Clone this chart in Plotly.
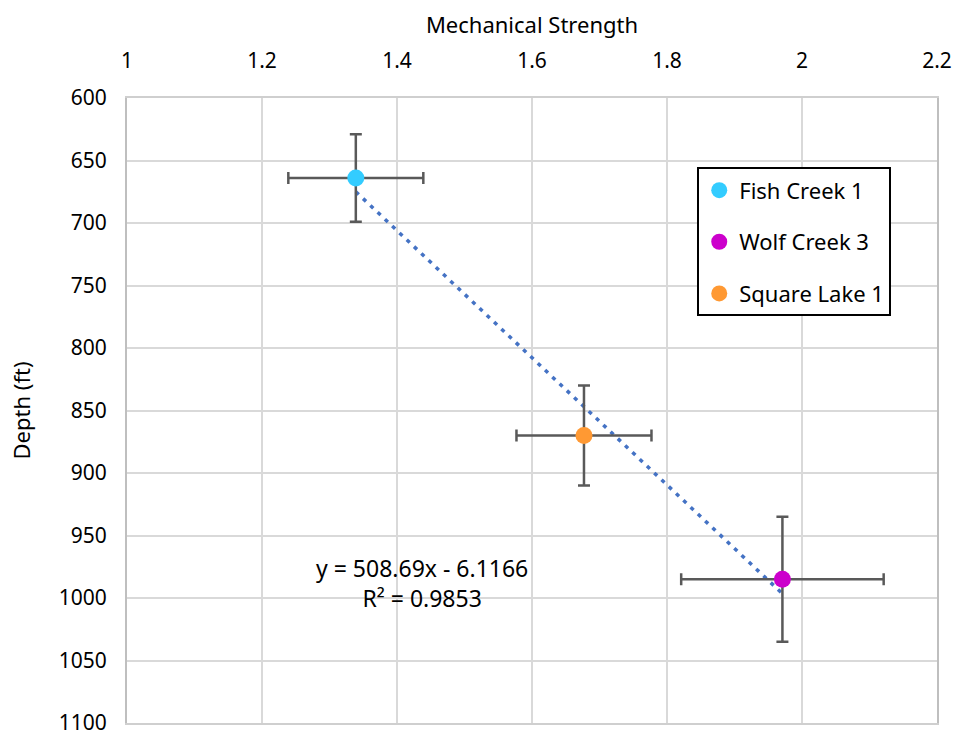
import plotly.graph_objects as go

names = ["Fish Creek 1", "Wolf Creek 3", "Square Lake 1"]
strength = [1.339, 1.971, 1.677]
depth = [664, 985, 870]
strength_err = [0.10, 0.15, 0.10]
depth_err = [35, 50, 40]
colors = ["#33CCFF", "#CC00CC", "#FF9933"]

slope = 508.69
intercept = -6.1166
r2 = 0.9853
trend_x = [min(strength), max(strength)]
trend_y = [slope * v + intercept for v in trend_x]

FONT = "Noto Sans"

fig = go.Figure()
fig.add_trace(go.Scatter(
    x=trend_x, y=trend_y, mode="lines",
    line=dict(color="#4472C4", width=3.5, dash="4px,6px"),
    showlegend=False, hoverinfo="skip"))

for i, n in enumerate(names):
    fig.add_trace(go.Scatter(
        x=[strength[i]], y=[depth[i]], mode="markers", name=n,
        legendgroup=n,
        marker=dict(color=colors[i], size=17),
        error_x=dict(type="data", array=[strength_err[i]], color="#595959", thickness=2.5, width=6),
        error_y=dict(type="data", array=[depth_err[i]], color="#595959", thickness=2.5, width=6),
    ))

fig.add_annotation(
    x=1.437, y=988, xref="x", yref="y",
    text=f"y = {slope}x - {abs(intercept)}<br>R² = {r2}",
    showarrow=False, align="center",
    font=dict(family=FONT, size=23, color="#000000"))

fig.update_layout(
    width=956, height=736,
    margin=dict(l=127, r=19, t=98, b=13, autoexpand=False),
    paper_bgcolor="white", plot_bgcolor="white",
    font=dict(family=FONT, size=21, color="#000000"),
    showlegend=True,
    legend=dict(
        x=0.704, y=0.889, xanchor="left", yanchor="top",
        bordercolor="#000000", borderwidth=2,
        bgcolor="white", traceorder="grouped", tracegroupgap=20,
        font=dict(family=FONT, size=22, color="#000000"),
        itemsizing="trace", itemwidth=30),
    xaxis=dict(
        side="top", range=[1, 2.2], dtick=0.2, tick0=1,
        showgrid=True, gridcolor="#d9d9d9", gridwidth=2,
        showline=True, linecolor="#cfcfcf", linewidth=2, mirror=True,
        zeroline=False, ticks="", ticklabelstandoff=20, automargin=False,
        ticklabeloverflow="allow",
        title=dict(text="Mechanical Strength", standoff=6,
                   font=dict(family=FONT, size=22)),
        tickfont=dict(family=FONT, size=21)),
    yaxis=dict(
        range=[1100, 600], dtick=50, tick0=600,
        showgrid=True, gridcolor="#d9d9d9", gridwidth=2,
        showline=True, linecolor="#bfbfbf", linewidth=2, mirror=True,
        zeroline=False, ticks="", ticklabelstandoff=14, automargin=False,
        ticklabeloverflow="allow",
        title=dict(text="Depth (ft)", standoff=22,
                   font=dict(family=FONT, size=22)),
        tickfont=dict(family=FONT, size=21)),
)

fig.write_html("out.html", config={"displayModeBar": False},
               post_script="document.body.style.margin='0px';")
